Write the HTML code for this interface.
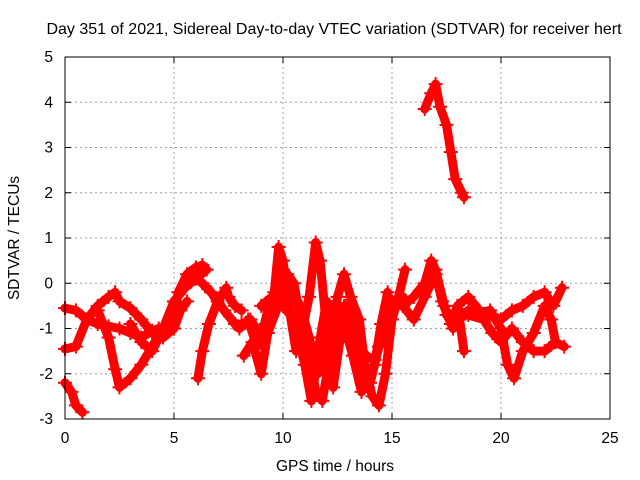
<!DOCTYPE html>
<html><head><meta charset="utf-8"><style>
body{margin:0;background:#fff}
svg{display:block;font-family:"Liberation Sans",sans-serif}
</style></head><body>
<svg id="c" width="640" height="480"></svg>
<script>
const xTicks=[0,5,10,15,20,25];
const yTicks=[-3,-2,-1,0,1,2,3,4,5];
const tracesT=[
[0,0.5,1,1.5,2,2.5,3,3.5,4,4.3],
[0,0.5,1,1.5,2,2.3,2.5,3,3.5,4,4.5,5,5.3,5.6],
[0,0.3,0.5,0.8],
[1.5,2,2.3,2.5,3,3.5,4,4.5,5,5.2,5.6,6,6.3],
[3,3.5,4,4.5,5,5.5,6,6.5],
[6.1,6.3,6.6,7,7.4,7.5,7.8,8.1],
[5.8,6.3,6.7,7.3,7.8,8.1],
[8,8.5,9,9.3,9.6,9.8,10,10.3,10.6,10.9,11.2,11.5,11.7,12,12.3,12.6,12.9,13.3,13.8,14.2,14.7,15,15.5],
[8.2,8.6,9,9.3,9.7,10.2,10.5,10.8,11.2,11.5,11.8,12.2,12.5,12.8,13.1,13.5,13.8,14.1,14.4,14.7,15,15.3,15.6],
[9,9.5,10,10.5,11,11.3,11.6,12,12.4,12.8,13.3,13.6,13.9,14.2,14.5,14.8],
[8.4,8.8,9.2,9.6,10,10.4,10.8,11.2,11.6,12,12.4,12.8,13.2,13.6,14,14.4],
[15,15.5,16,16.5,16.8,17,17.4,17.8,18.1,18.3],
[15.5,16,16.5,17,17.3,17.7,18,18.5,19,19.5,20,20.5,21,21.5,22,22.4,22.8],
[17.5,18,18.5,19,19.5,20,20.3,20.6,21,21.5,22,22.3,22.5],
[18,18.5,19.2,19.6,20,20.5,21,21.5,22,22.5,22.9],
[16.5,16.8,17,17.2,17.5,17.7,17.9,18.2,18.3]
];
const tracesV=[
[-0.55,-0.6,-0.8,-0.9,-0.95,-1,-1.1,-1.2,-1.05,-1],
[-1.45,-1.4,-0.8,-0.5,-0.3,-0.2,-0.4,-0.55,-0.8,-1.1,-1.2,-1,-0.6,-0.4],
[-2.2,-2.4,-2.7,-2.85],
[-0.6,-1.2,-1.9,-2.3,-2.1,-1.8,-1.4,-1,-0.7,-0.2,0.2,0.35,0.4],
[-0.9,-1.3,-1.5,-1,-0.4,-0.1,0.1,0.3],
[-2.1,-1.5,-0.9,-0.4,-0.1,-0.3,-0.5,-0.6],
[0.2,0,-0.2,-0.6,-0.9,-0.9],
[-1,-0.8,-1.2,-0.6,-0.2,0.8,0.5,-0.6,-1.5,-1,-0.3,0.9,0.5,-1,-2.3,-1.3,-0.5,-1.2,-1.6,-1.7,-1,-0.4,-0.3],
[-1.6,-1.3,-2,-1.1,-0.6,0.2,0,-0.8,-1.5,-2.4,-2.6,-1.5,-0.3,0.2,-0.3,-0.8,-2,-2.5,-2.7,-2,-0.8,-0.3,0.3],
[-0.5,-0.3,-0.5,-0.8,-1.8,-2.6,-1.5,-0.4,-0.8,-0.5,-1.5,-2.2,-2.3,-1.8,-0.9,-0.2],
[-0.8,-1.4,-0.9,-0.4,0.3,-0.2,-0.5,-1.2,-2,-1.2,-0.6,-0.9,-1.6,-2.4,-2.2,-1.4],
[-0.4,-0.5,-0.3,0,0.5,0.3,-0.5,-1,-0.8,-1.5],
[-0.5,-0.8,-0.3,0.2,-0.4,-0.9,-0.5,-0.3,-0.6,-0.7,-0.8,-0.6,-0.5,-0.3,-0.2,-0.5,-0.1],
[-0.7,-0.8,-0.6,-0.65,-0.6,-1,-1.8,-2.1,-1.5,-1.1,-0.5,-0.8,-1.3],
[-0.6,-0.7,-0.8,-1.1,-1.3,-1,-1.3,-1.5,-1.5,-1.3,-1.4],
[3.85,4.2,4.4,3.9,3.5,2.9,2.3,2,1.9]
];
const NS="http://www.w3.org/2000/svg";
const svg=document.getElementById('c');
const L=65,R=610,T=57,B=419;
const X=t=>L+(R-L)*t/25;
const Y=v=>B-(B-T)*(v+3)/8;
function mk(tag,a,txt){const e=document.createElementNS(NS,tag);for(const k in a)e.setAttribute(k,a[k]);if(txt!=null)e.textContent=txt;svg.appendChild(e);return e;}
const title=mk('text',{x:334,y:34,'text-anchor':'middle','font-size':16},'Day 351 of 2021, Sidereal Day-to-day VTEC variation (SDTVAR) for receiver hert');


xTicks.forEach(t=>{
 if(t>0&&t<25){const g=mk('line',{x1:X(t),x2:X(t),y1:T,y2:B,stroke:'#a0a0a0','stroke-dasharray':'2,3'});
 
 }
 mk('line',{x1:X(t),x2:X(t),y1:B,y2:B-6,stroke:'#000'});
 mk('line',{x1:X(t),x2:X(t),y1:T,y2:T+6,stroke:'#000'});
 const l=mk('text',{x:X(t),y:443,'text-anchor':'middle','font-size':15.5},t);
 
 
});
yTicks.forEach(v=>{
 if(v>-3&&v<5){const g=mk('line',{x1:L,x2:R,y1:Y(v),y2:Y(v),stroke:'#a0a0a0','stroke-dasharray':'2,3'});
 
 }
 mk('line',{x1:L,x2:L+6,y1:Y(v),y2:Y(v),stroke:'#000'});
 mk('line',{x1:R,x2:R-6,y1:Y(v),y2:Y(v),stroke:'#000'});
 const l=mk('text',{x:53,y:Y(v)+5,'text-anchor':'end','font-size':15.5},v);
 
 
});
tracesT.forEach((ts,i)=>{
 const vs=tracesV[i];
 const pts=ts.map((t,j)=>X(t)+','+Y(vs[j])).join(' ');
 const p=mk('polyline',{points:pts,fill:'none',stroke:'#ff0000','stroke-width':9,'stroke-linejoin':'round','stroke-linecap':'round'});
 
 
 ts.forEach((t,j)=>{
  const x=X(t),y=Y(vs[j]);
  const m=mk('path',{d:`M${x-7},${y}H${x+7}M${x},${y-7}V${y+7}`,stroke:'#ff0000','stroke-width':2});
  
  
 });
});
const fr=mk('rect',{x:L,y:T,width:R-L,height:B-T,fill:'none',stroke:'#000','stroke-width':1});


const xt=mk('text',{x:335,y:471,'text-anchor':'middle','font-size':15.5},'GPS time / hours');


const yt=mk('text',{x:0,y:0,'text-anchor':'middle','font-size':15.5,transform:'translate(19,238) rotate(-90)'},'SDTVAR / TECUs');


</script>
</body></html>
